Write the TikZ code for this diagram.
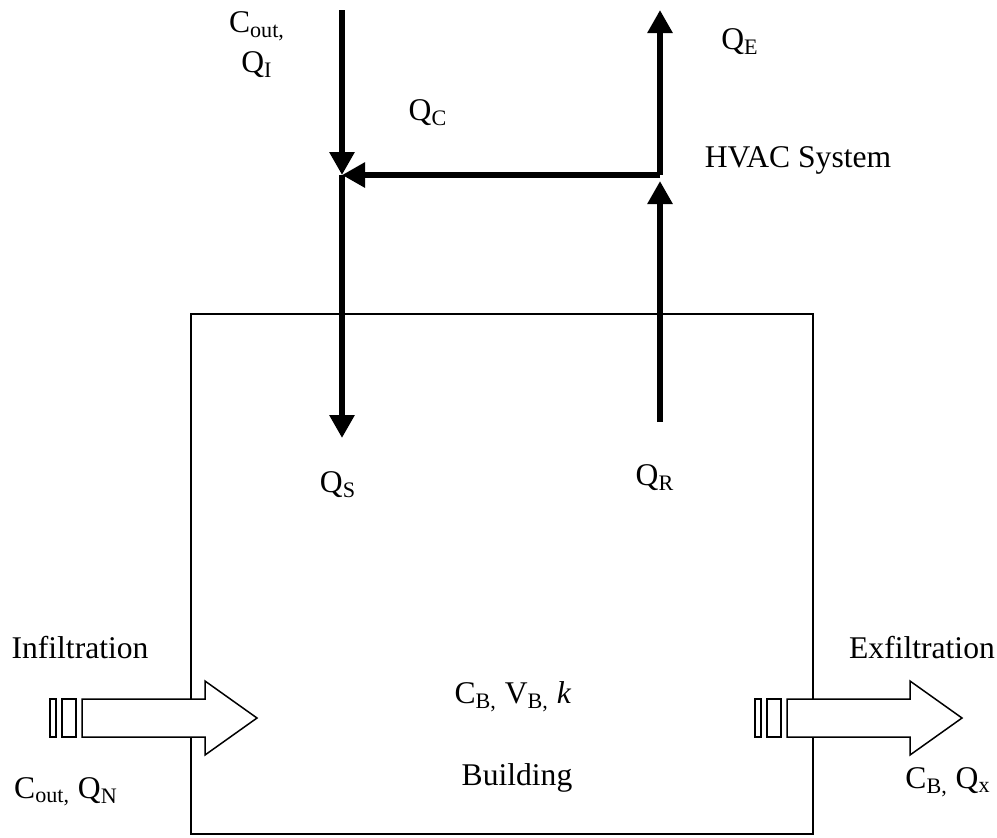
\documentclass[tikz,border=0pt]{standalone}
\usepackage{fontspec}
\setmainfont{Liberation Serif}
\usetikzlibrary{arrows.meta}
\tikzset{
  flow/.style={line width=3pt,-{Triangle[length=11.5pt,width=12pt]}},
  wall/.style={draw,line width=0.75pt},
  vent/.style={draw,line width=0.75pt,fill=white},
  lbl/.style={inner sep=0pt,font=\fontsize{15.8}{20}\selectfont,align=center},
}
% hollow flow arrow with two slats at its tail, #1 = x offset
\newcommand\ventarrow[1]{%
  \begin{scope}[shift={(#1,0)}]
    \draw[vent] (0,699) rectangle (6,737);
    \draw[vent] (12,699) rectangle (26,737);
    \draw[vent] (32,699) -- (155,699) -- (155,681) -- (207,718)
      -- (155,755) -- (155,737) -- (32,737) -- cycle;
  \end{scope}}

\begin{document}
\begin{tikzpicture}[x=0.5pt,y=-0.5pt]
  \useasboundingbox (0,0) rectangle (997,837);
  % building
  \node[wall,anchor=north west,inner sep=0pt,
    minimum width=311pt,minimum height=260pt] (bldg) at (190,313) {};
  % HVAC ducts
  \coordinate (intake) at (342,10);
  \coordinate (mix) at (342,175);
  \coordinate (supply) at (342,438);
  \coordinate (return) at (660,422);
  \coordinate (split) at (660,175);
  \coordinate (exhaust) at (660,10);
  \draw[flow] (intake) -- (mix);
  \draw[flow] (mix) -- (supply);
  \draw[flow,shorten >=3pt] (return) -- (split);
  \draw[flow] (split) -- (exhaust);
  \draw[flow] (split) -- (mix);
  % infiltration / exfiltration
  \ventarrow{50}
  \ventarrow{755}
  % labels
  \node[lbl] (cin) at (257,45) {C\textsubscript{out,}\\Q\textsubscript{I}};
  \node[lbl] (qc) at (428,113) {Q\textsubscript{C}};
  \node[lbl] (qe) at (740,42) {Q\textsubscript{E}};
  \node[lbl] (hvac) at (798,160) {HVAC System};
  \node[lbl] (qs) at (338,485) {Q\textsubscript{S}};
  \node[lbl] (qr) at (655,478) {Q\textsubscript{R}};
  \node[lbl] (infil) at (80,648) {Infiltration};
  \node[lbl] (exfil) at (922,648) {Exfiltration};
  \node[lbl] (state) at (513,697) {C\textsubscript{B,} V\textsubscript{B,} \textit{k}};
  \node[lbl] (bname) at (517,778) {Building};
  \node[lbl] (qn) at (66,792) {C\textsubscript{out,} Q\textsubscript{N}};
  \node[lbl] (qx) at (948,782) {C\textsubscript{B,} Q\textsubscript{x}};
\end{tikzpicture}
\end{document}
